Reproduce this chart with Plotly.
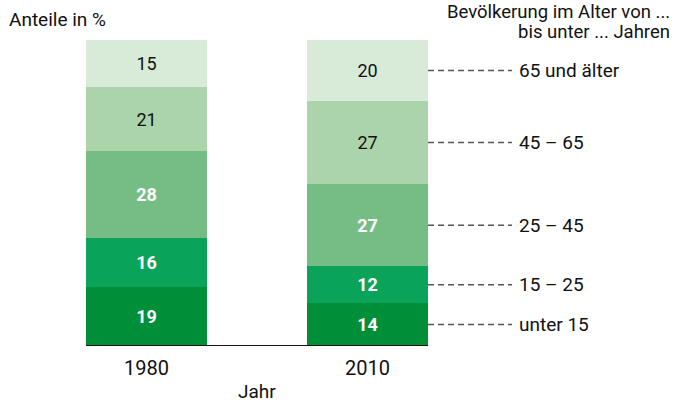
import plotly.graph_objects as go

years = ["1980", "2010"]
age_groups = ["unter 15", "15 – 25", "25 – 45", "45 – 65", "65 und älter"]
# shares (bottom to top) per year
values_1980 = [19.2, 16.1, 28.4, 21.0, 15.3]
values_2010 = [14, 12, 27, 27, 20]
labels_1980 = [19, 16, 28, 21, 15]
labels_2010 = [14, 12, 27, 27, 20]

colors = ["#008f39", "#0aa35a", "#76bd85", "#abd4aa", "#d7ebd8"]
text_colors = ["white", "white", "white", "#111111", "#111111"]
bold = [True, True, True, False, False]

FONT = "Roboto, Liberation Sans, sans-serif"
INK = "#111111"
xpos = [0, 1]
bar_w = 0.548

fig = go.Figure()
for i, g in enumerate(age_groups):
    labs = [labels_1980[i], labels_2010[i]]
    txt = [f"<b>{v}</b>" if bold[i] else f"{v}" for v in labs]
    fig.add_trace(go.Bar(
        x=xpos, y=[values_1980[i], values_2010[i]], name=g,
        marker=dict(color=colors[i], line=dict(width=0)),
        width=bar_w, text=txt, textposition="inside",
        insidetextanchor="middle", textangle=0,
        textfont=dict(color=text_colors[i], size=18, family=FONT),
        hoverinfo="skip", showlegend=False,
    ))

# baseline
fig.add_shape(type="line", x0=-bar_w / 2, x1=1 + bar_w / 2, y0=0, y1=0,
              xref="x", yref="y", line=dict(color=INK, width=2))

# dashed leader lines + labels at 2010 segment midpoints
cum = 0
for i, g in enumerate(age_groups):
    mid = cum + values_2010[i] / 2
    cum += values_2010[i]
    fig.add_shape(type="line", x0=1 + bar_w / 2, x1=1.654, y0=mid, y1=mid,
                  xref="x", yref="y",
                  line=dict(color="#555555", width=1.5, dash="6px,4px"))
    fig.add_annotation(x=1.676, y=mid, xref="x", yref="y", text=g,
                       showarrow=False, xanchor="left", yanchor="middle",
                       font=dict(size=19, family=FONT, color=INK))

W, H = 674, 402
PT, PB = 40, 346  # plot area top / bottom in px
def py(px):
    return (PB - px) / (PB - PT)

fig.add_annotation(x=7 / W, y=py(19), xref="paper", yref="paper",
                   text="Anteile in %", showarrow=False, xanchor="left",
                   yanchor="middle", font=dict(size=19, family=FONT, color=INK))
fig.add_annotation(x=672 / W, y=py(12), xref="paper", yref="paper",
                   text="Bevölkerung im Alter von ...", height=20,
                   showarrow=False, xanchor="right", yanchor="middle",
                   font=dict(size=18.5, family=FONT, color=INK))
fig.add_annotation(x=672 / W, y=py(32), xref="paper", yref="paper",
                   text="bis unter ... Jahren", height=20,
                   showarrow=False, xanchor="right", yanchor="middle",
                   font=dict(size=18.5, family=FONT, color=INK))
fig.add_annotation(x=0.5, y=py(391), xref="x", yref="paper",
                   text="Jahr", showarrow=False, xanchor="center", height=20,
                   yanchor="middle", font=dict(size=19, family=FONT, color=INK))

x0 = -146.5 / 221
fig.update_layout(
    width=W, height=H, barmode="stack",
    margin=dict(l=0, r=0, t=PT, b=H - PB, autoexpand=False),
    paper_bgcolor="white", plot_bgcolor="white",
    xaxis=dict(range=[x0, x0 + W / 221], tickvals=xpos, ticktext=years,
               showgrid=False, zeroline=False, showline=False, ticks="",
               ticklabelstandoff=8,
               tickfont=dict(size=20, family=FONT, color=INK)),
    yaxis=dict(range=[0, 100], visible=False),
    bargap=0,
)
fig.write_html("out.html", config={"displayModeBar": False},
               post_script="document.body.style.margin='0';document.body.style.overflow='hidden';")
